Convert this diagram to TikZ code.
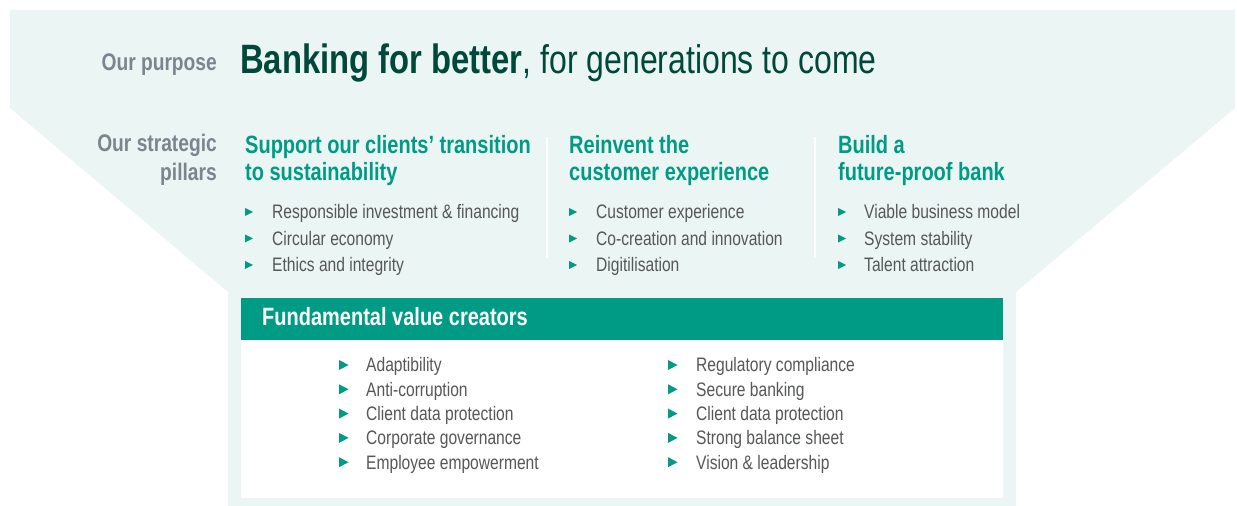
\documentclass[tikz,border=0pt]{standalone}
\usepackage{fontspec}
\setmainfont{Liberation Sans}[FakeStretch=0.8]
\definecolor{mint}{HTML}{EBF5F3}
\definecolor{tealc}{HTML}{009B85}
\definecolor{darkg}{HTML}{00483A}
\definecolor{lblgray}{HTML}{7A858F}
\definecolor{txtgray}{HTML}{555759}
\tikzset{
  lbl/.style={anchor=base east, text=lblgray, inner sep=0, font=\bfseries\fontsize{24bp}{29bp}\selectfont},
  phead/.style={anchor=base west, text=tealc, inner sep=0, font=\bfseries\fontsize{25bp}{27bp}\selectfont},
  btxt/.style={anchor=base west, text=txtgray, inner sep=0, font=\fontsize{19.5bp}{24bp}\selectfont},
  bul/.style={fill=tealc},
  divider/.style={draw=white, line width=2bp}
}
\begin{document}
\begin{tikzpicture}[x=1bp,y=-1bp]
\useasboundingbox (0,0) rectangle (1237,506);
% background funnel
\fill[mint] (10,10) -- (1235,10) -- (1235,108) -- (1016,292) -- (1016,506) -- (228,506) -- (228,292) -- (10,108) -- cycle;
% purpose
\node[lbl] (purpose) at (217,71) {Our purpose};
\node[anchor=base west, inner sep=0, text=darkg] (banking) at (240,74)
  {\fontsize{40bp}{44bp}\selectfont\textbf{\fontsize{41bp}{44bp}\selectfont Banking for better}, for generations to come};
% strategic pillars label
\node[lbl] (strat1) at (217,152) {Our strategic};
\node[lbl] (strat2) at (217,181) {pillars};
% pillar headings
\node[phead] (h1a) at (245,154) {Support our clients’ transition};
\node[phead] (h1b) at (245,181) {to sustainability};
\node[phead] (h2a) at (569,154) {Reinvent the};
\node[phead] (h2b) at (569,181) {customer experience};
\node[phead] (h3a) at (838,154) {Build a};
\node[phead] (h3b) at (838,181) {future-proof bank};
% dividers
\coordinate (d1t) at (547,137); \coordinate (d1b) at (547,258);
\coordinate (d2t) at (815,137); \coordinate (d2b) at (815,258);
\draw[divider] (d1t) -- (d1b);
\draw[divider] (d2t) -- (d2b);
% pillar bullets
\foreach \t [count=\i, evaluate=\i as \yb using {219+26.5*(\i-1)}] in {Responsible investment \& financing, Circular economy, Ethics and integrity}{
  \fill[bul] (245,\yb-11) -- ++(0,8) -- ++(8,-4) -- cycle;
  \node[btxt] (pa\i) at (272,\yb) {\t};
}
\foreach \t [count=\i, evaluate=\i as \yb using {219+26.5*(\i-1)}] in {Customer experience, Co-creation and innovation, Digitilisation}{
  \fill[bul] (569,\yb-11) -- ++(0,8) -- ++(8,-4) -- cycle;
  \node[btxt] (pb\i) at (596,\yb) {\t};
}
\foreach \t [count=\i, evaluate=\i as \yb using {219+26.5*(\i-1)}] in {Viable business model, System stability, Talent attraction}{
  \fill[bul] (838,\yb-11) -- ++(0,8) -- ++(8,-4) -- cycle;
  \node[btxt] (pc\i) at (864,\yb) {\t};
}
% fundamental value creators
\fill[white] (241,340) rectangle (1003,498);
\node[fill=tealc, anchor=north west, inner sep=0, minimum width=762bp, minimum height=42bp] (bar) at (241,298) {};
\node[anchor=base west, inner sep=0, text=white, font=\bfseries\fontsize{25bp}{27bp}\selectfont] (fvc) at (262,326) {Fundamental value creators};
\foreach \t [count=\i, evaluate=\i as \yb using {372+24.3*(\i-1)}] in {Adaptibility, Anti-corruption, Client data protection, Corporate governance, Employee empowerment}{
  \fill[bul] (339,\yb-12) -- ++(0,10) -- ++(9.5,-5) -- cycle;
  \node[btxt] (fa\i) at (366,\yb) {\t};
}
\foreach \t [count=\i, evaluate=\i as \yb using {372+24.3*(\i-1)}] in {Regulatory compliance, Secure banking, Client data protection, Strong balance sheet, Vision \& leadership}{
  \fill[bul] (668,\yb-12) -- ++(0,10) -- ++(9.5,-5) -- cycle;
  \node[btxt] (fb\i) at (696,\yb) {\t};
}
\end{tikzpicture}
\end{document}
